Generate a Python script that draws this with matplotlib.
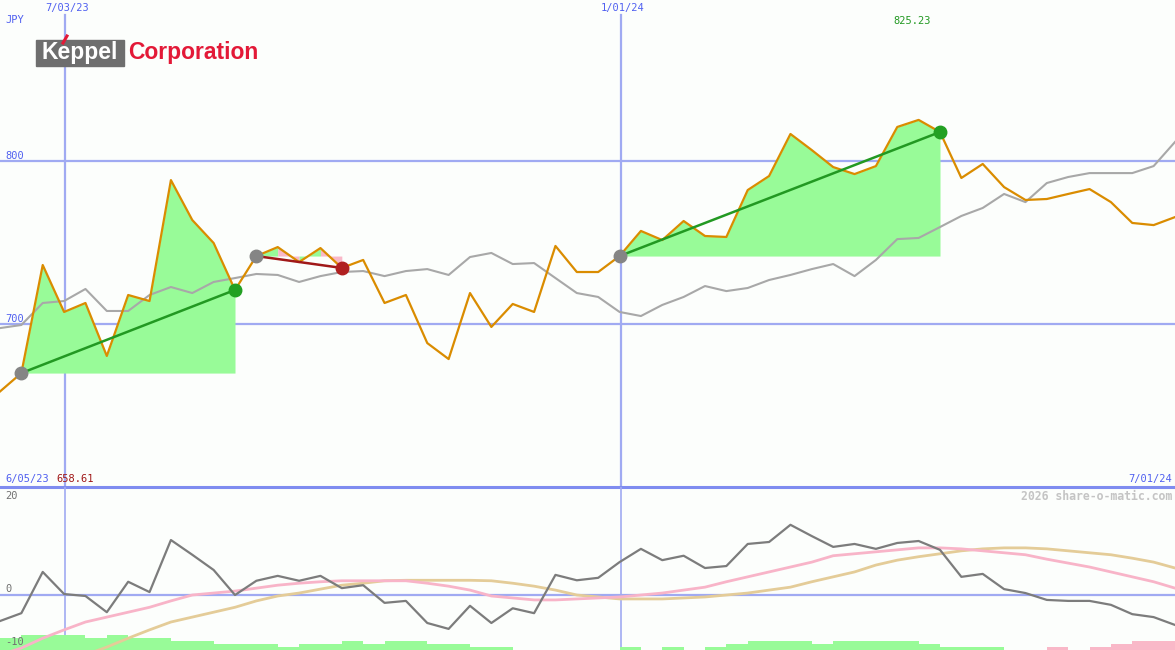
import numpy as np
import matplotlib
matplotlib.use("Agg")
import matplotlib.pyplot as plt
from matplotlib.patches import Rectangle

# weekly closes (JPY)
price = [658.6, 669.9, 736.2, 707.4, 712.9, 680.4, 717.8, 714.1, 788.3, 763.8,
         749.7, 720.9, 741.7, 747.2, 738.0, 746.6, 734.4, 739.3, 712.9, 717.8,
         688.3, 678.5, 719.0, 698.2, 712.3, 707.4, 747.9, 731.9, 731.9, 741.7,
         757.1, 751.5, 763.2, 754.0, 753.4, 782.2, 790.8, 816.6, 806.7, 796.3,
         792.0, 796.9, 820.9, 825.23, 817.8, 789.6, 798.2, 784.0, 776.1, 776.7,
         779.8, 782.8, 774.8, 762.0, 760.7, 765.6]

# comparison line (grey)
index_line = [697.5, 699.4, 712.9, 714.1, 721.5, 708.0, 708.0, 717.8, 722.7, 719.0,
              725.8, 728.2, 730.7, 730.1, 725.8, 729.4, 731.9, 732.5, 729.4, 732.5,
              733.7, 730.1, 741.1, 743.6, 736.8, 737.4, 728.2, 719.0, 716.6, 707.4,
              704.9, 711.7, 716.6, 723.3, 720.2, 722.1, 727.0, 730.1, 733.7, 736.8,
              729.4, 739.3, 752.1, 752.8, 759.5, 766.3, 771.2, 779.8, 774.8, 786.5,
              790.2, 792.6, 792.6, 792.6, 796.9, 811.7]

# lower panel indicator
momentum = [-5.4, -3.8, 4.6, 0.1, -0.3, -3.6, 2.6, 0.5, 11.1, 8.1,
            5.0, -0.1, 2.8, 3.8, 2.8, 3.8, 1.3, 1.9, -1.7, -1.3,
            -5.8, -7.0, -2.3, -5.8, -2.8, -3.8, 4.0, 2.9, 3.4, 6.6,
            9.3, 7.0, 7.9, 5.4, 5.8, 10.3, 10.7, 14.2, 11.9, 9.7,
            10.3, 9.3, 10.5, 10.9, 9.1, 3.6, 4.2, 1.1, 0.3, -1.1,
            -1.3, -1.3, -2.1, -4.0, -4.6, -6.2]
signal_fast = [-12.3, -10.9, -8.9, -7.2, -5.6, -4.6, -3.6, -2.6, -1.3, -0.1,
               0.3, 0.7, 1.3, 1.9, 2.3, 2.6, 2.8, 2.8, 2.8, 2.8,
               2.3, 1.7, 0.9, -0.3, -0.7, -1.1, -1.1, -0.9, -0.7, -0.5,
               -0.1, 0.3, 0.9, 1.5, 2.6, 3.6, 4.6, 5.6, 6.6, 7.9,
               8.3, 8.7, 9.1, 9.5, 9.5, 9.3, 8.9, 8.5, 8.1, 7.2,
               6.4, 5.6, 4.6, 3.6, 2.6, 1.3]
signal_slow = [np.nan, np.nan, np.nan, np.nan, -12.3, -10.7, -8.9, -7.2, -5.6, -4.6,
               -3.6, -2.6, -1.3, -0.3, 0.3, 1.1, 1.9, 2.3, 2.8, 2.9,
               2.9, 2.9, 2.9, 2.8, 2.3, 1.7, 0.9, -0.1, -0.5, -0.9,
               -0.9, -0.9, -0.7, -0.5, -0.1, 0.3, 0.9, 1.5, 2.6, 3.6,
               4.6, 6.0, 7.0, 7.7, 8.3, 8.9, 9.3, 9.5, 9.5, 9.3,
               8.9, 8.5, 8.1, 7.4, 6.6, 5.4]
# histogram at the bottom (negative = pink)
hist = [2.4, 3.1, 3.1, 3.1, 2.4, 3.1, 2.4, 2.4, 1.8, 1.8,
        1.2, 1.2, 1.2, 0.6, 1.2, 1.2, 1.8, 1.2, 1.8, 1.8,
        1.2, 1.2, 0.6, 0.6, 0, 0, 0, 0, 0, 0.6,
        0, 0.6, 0, 0.6, 1.2, 1.8, 1.8, 1.8, 1.2, 1.8,
        1.8, 1.8, 1.8, 1.2, 0.6, 0.6, 0.6, 0, 0, -0.6,
        0, -0.6, -1.2, -1.8, -1.8]

# trend segments (start week, end week)
segments = [(1, 11), (12, 16), (29, 44)]
date_idx = [3, 29]
date_labels = ["7/03/23", "1/01/24"]

bg = "#FCFEFC"
blue = "#A0AAF2"
txtblue = "#5060F0"
orange = "#DA8C00"
fillgreen = "#98FB98"
fillpink = "#F9B8C8"
x = np.arange(len(price))
price = np.array(price)

fig = plt.figure(figsize=(11.75, 6.5), dpi=100, facecolor=bg)
ax = fig.add_axes([0, 163 / 650, 1, 487 / 650])
ax2 = fig.add_axes([0, 0, 1, 163 / 650])
for a in (ax, ax2):
    a.set_facecolor(bg)
    a.set_xlim(0, 55)
    a.axis("off")
ax.set_ylim(600, 898.8)
ax2.set_ylim(-11.3, 21.9)

# grid
for lvl in (700, 800):
    ax.axhline(lvl, color=blue, lw=1.6, zorder=1)
for d in date_idx:
    ax.plot([d + 0.05, d + 0.05], [600, 889.5], color=blue, lw=1.6, zorder=1)
    ax2.axvline(d + 0.05, color=blue, lw=1.2, zorder=1)
ax2.axhline(0, color=blue, lw=1.6, zorder=1)
ax.axhline(600, color="#7F8CF0", lw=2.2, zorder=5, clip_on=False)

# shaded trend areas
for s, e in segments:
    xs = x[s:e + 1]
    ps = price[s:e + 1]
    base = price[s]
    if price[e] >= base:
        ax.fill_between(xs, ps, base, where=ps >= base, interpolate=True,
                        color=fillgreen, lw=0, zorder=2)
    else:
        # falling trend: shade each week green/pink by its direction
        for k in range(s, e):
            col = fillgreen if price[k + 1] >= price[k] else fillpink
            ax.fill_between(x[k:k + 2], price[k:k + 2], base,
                            interpolate=True, color=col, lw=0, zorder=2)

ax.plot(x, index_line, color="#A8A8A8", lw=1.5, zorder=3)
ax.plot(x, price, color=orange, lw=1.6, zorder=4)

for s, e in segments:
    up = price[e] >= price[s]
    lc = "#229922" if up else "#A01818"
    ax.plot([s, e], [price[s], price[e]], color=lc, lw=1.8, zorder=5)
    ax.plot(s, price[s], "o", ms=9, color="#858585", zorder=6)
    ax.plot(e, price[e], "o", ms=9, color="#22A022" if up else "#B02020", zorder=6)

# lower panel
ax2.bar(x[:len(hist)], np.abs(hist), width=1.0, align="edge", bottom=-11.3,
        color=[fillgreen if h >= 0 else fillpink for h in hist], lw=0, zorder=1)
ax2.plot(x, signal_slow, color="#E4CC98", lw=2.0, zorder=2)
ax2.plot(x, signal_fast, color="#F8B4C8", lw=2.0, zorder=3)
ax2.plot(x, momentum, color="#7C7C7C", lw=1.6, zorder=4)

# text
mono = "DejaVu Sans Mono"
def px(xp, yp, s, **kw):
    fig.text(xp / 1175, 1 - yp / 650, s, family=mono, fontsize=7.5, **kw)

px(5, 20, "JPY", color=txtblue, va="center")
for d, lab in zip(date_idx, date_labels):
    px(d * 1175 / 55 + 3, 8, lab, color=txtblue, va="center", ha="center")
px(912, 21, "%.2f" % price.max(), color="#229922", va="center", ha="center")
px(5, 156, "800", color=txtblue, va="center")
px(5, 319, "700", color=txtblue, va="center")
px(5, 479, "6/05/23", color=txtblue, va="center")
px(56, 479, "%.2f" % 658.61, color="#A01818", va="center")
px(1172, 479, "7/01/24", color=txtblue, va="center", ha="right")
fig.text(1172 / 1175, 1 - 496 / 650, "2026 share-o-matic.com", family=mono,
         fontsize=8.3, fontweight="bold", color="#C4C4C4", ha="right", va="center")
px(5, 496, "20", color="#707070", va="center")
px(5, 589, "0", color="#707070", va="center")
px(5, 642, "-10", color="#707070", va="center")

# logo
fig.patches.append(Rectangle((36 / 1175, 1 - 66 / 650), 88 / 1175, 26 / 650,
                             transform=fig.transFigure, color="#6E6E6E", zorder=10))
fig.text(80 / 1175, 1 - 53 / 650, "Keppel", family="Liberation Sans", fontweight="bold",
         fontsize=16.5, color="white", ha="center", va="center", zorder=11)
fig.lines.append(plt.Line2D([63 / 1175, 67 / 1175], [1 - 43 / 650, 1 - 36 / 650],
                            transform=fig.transFigure, color="#E31937", lw=2.2, zorder=12))
fig.text(128 / 1175, 1 - 53 / 650, "Corporation", family="Liberation Sans",
         fontweight="bold", fontsize=16.5, color="#E31937", ha="left", va="center")

fig.savefig("out.png", dpi=100, facecolor=bg)
